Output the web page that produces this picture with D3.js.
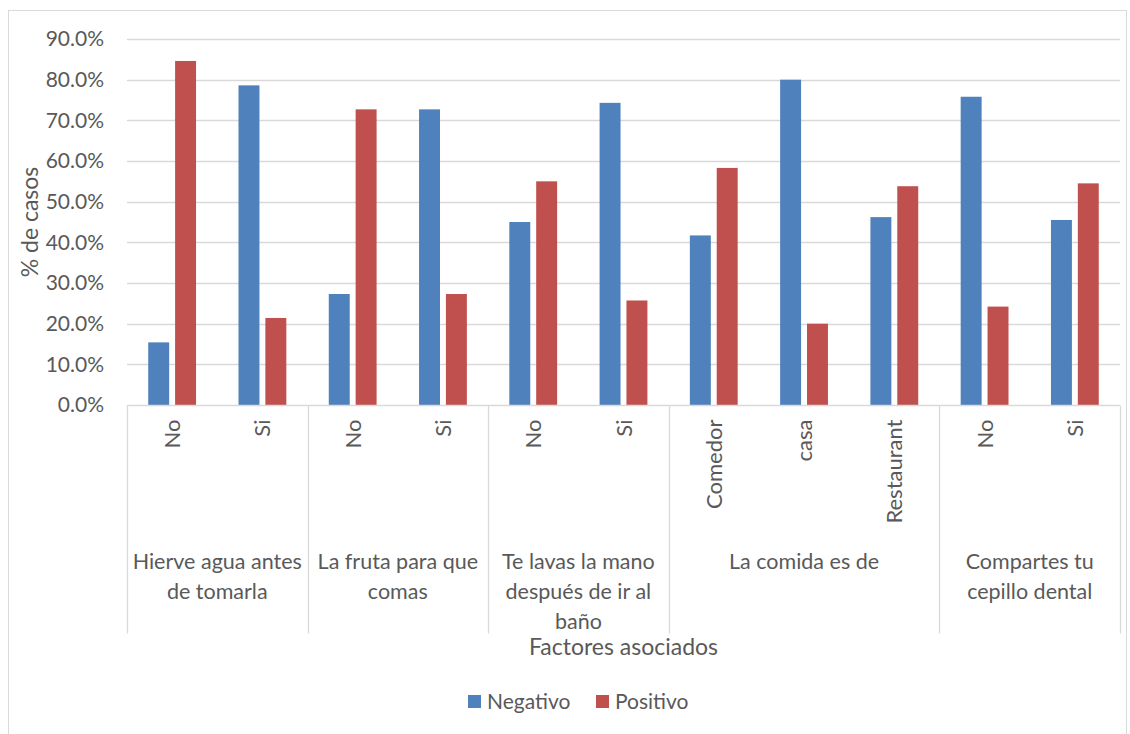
<!DOCTYPE html>
<html>
<head>
<meta charset="utf-8">
<script src="https://cdn.jsdelivr.net/npm/d3@7"></script>
<style>
  body { margin: 0; background: #fff; }
  text { font-family: Lato, "Open Sans", sans-serif; fill: #595959; }
</style>
</head>
<body>
<div id="chart"></div>
<script>
// data
var groups = [
  { name: ["Hierve agua antes", "de tomarla"], cats: ["No", "Si"] },
  { name: ["La fruta para que", "comas"], cats: ["No", "Si"] },
  { name: ["Te lavas la mano", "después de ir al", "baño"], cats: ["No", "Si"] },
  { name: ["La comida es de"], cats: ["Comedor", "casa", "Restaurant"] },
  { name: ["Compartes tu", "cepillo dental"], cats: ["No", "Si"] }
];
var negativo = [15.4, 78.6, 27.3, 72.7, 45.0, 74.3, 41.7, 80.0, 46.2, 75.8, 45.5];
var positivo = [84.6, 21.4, 72.7, 27.3, 55.0, 25.7, 58.3, 20.0, 53.8, 24.2, 54.5];
var series = ["Negativo", "Positivo"];
var colors = ["#4f81bd", "#c0504d"];
var yTicks = [0, 10, 20, 30, 40, 50, 60, 70, 80, 90];

var W = 1130, H = 734;
var m = { left: 127, right: 10, top: 39, bottom: 329 };

var svg = d3.select("#chart").append("svg")
    .attr("width", W).attr("height", H);

// chart border
svg.append("rect")
    .attr("x", 8.5).attr("y", 10.5)
    .attr("width", 1118).attr("height", 730)
    .attr("fill", "none").attr("stroke", "#d9d9d9");

// flat list of categories with group index
var cats = [];
groups.forEach(function(g, gi) {
  g.cats.forEach(function(c) { cats.push({ label: c, group: gi }); });
});
cats.forEach(function(c, i) { c.id = i; c.neg = negativo[i]; c.pos = positivo[i]; });

var xEnd = 1120;
var x = d3.scaleBand()
    .domain(cats.map(function(d) { return d.id; }))
    .range([m.left, xEnd]);

var y = d3.scaleLinear()
    .domain([0, 90])
    .range([H - m.bottom, m.top]);

// gridlines
svg.append("g").selectAll("line")
    .data(yTicks.slice(1))
    .join("line")
    .attr("x1", m.left).attr("x2", xEnd)
    .attr("y1", function(d) { return Math.round(y(d)) + 0.5; })
    .attr("y2", function(d) { return Math.round(y(d)) + 0.5; })
    .attr("stroke", "#d9d9d9").attr("stroke-width", 1.3);

// y axis labels
var yAxis = d3.axisLeft(y)
    .tickValues(yTicks)
    .tickFormat(function(d) { return d.toFixed(1) + "%"; })
    .tickSize(0).tickPadding(0);
var yg = svg.append("g")
    .attr("transform", "translate(" + (m.left - 23) + ",0)")
    .call(yAxis);
yg.select(".domain").remove();
yg.selectAll("text")
    .style("font-size", "21px")
    .attr("fill", "#595959");

// bars
var sub = d3.scaleBand()
    .domain(series)
    .range([0, x.bandwidth()])
    .paddingInner(0.22)
    .paddingOuter(0.79);

var cg = svg.append("g").selectAll("g")
    .data(cats)
    .join("g")
    .attr("transform", function(d) { return "translate(" + x(d.id) + ",0)"; });

cg.selectAll("rect")
    .data(function(d) { return [{ s: 0, v: d.neg }, { s: 1, v: d.pos }]; })
    .join("rect")
    .attr("x", function(d) { return sub(series[d.s]); })
    .attr("width", sub.bandwidth())
    .attr("y", function(d) { return y(d.v); })
    .attr("height", function(d) { return y(0) - y(d.v); })
    .attr("fill", function(d) { return colors[d.s]; });

// x axis baseline and group separators
var base = Math.round(y(0)) + 0.5;
svg.append("line")
    .attr("x1", m.left).attr("x2", xEnd)
    .attr("y1", base).attr("y2", base)
    .attr("stroke", "#d9d9d9").attr("stroke-width", 1.3);

var bounds = [0];
var acc = 0;
groups.forEach(function(g) { acc += g.cats.length; bounds.push(acc); });
function edge(b) { return b < cats.length ? x(b) : xEnd; }
svg.append("g").selectAll("line")
    .data(bounds)
    .join("line")
    .attr("x1", function(d) { return Math.round(edge(d)) + 0.5; })
    .attr("x2", function(d) { return Math.round(edge(d)) + 0.5; })
    .attr("y1", base).attr("y2", base + 228)
    .attr("stroke", "#d9d9d9").attr("stroke-width", 1.3);

// category labels (rotated)
svg.append("g").selectAll("text")
    .data(cats)
    .join("text")
    .attr("transform", function(d) {
      return "translate(" + (x(d.id) + x.bandwidth() / 2 + 8) + "," + (base + 14) + ") rotate(-90)";
    })
    .attr("text-anchor", "end")
    .style("font-size", "22px")
    .text(function(d) { return d.label; });

// group labels
var gl = svg.append("g").selectAll("text")
    .data(groups)
    .join("text")
    .attr("text-anchor", "middle")
    .style("font-size", "21.5px")
    .attr("transform", function(g, gi) {
      return "translate(" + ((edge(bounds[gi]) + edge(bounds[gi + 1])) / 2) + "," + (base + 163) + ")";
    });
gl.selectAll("tspan")
    .data(function(g) { return g.name; })
    .join("tspan")
    .attr("x", 0)
    .attr("dy", function(d, i) { return i === 0 ? 0 : 30; })
    .text(function(d) { return d; });

// axis titles
svg.append("text")
    .attr("x", (m.left + xEnd) / 2)
    .attr("y", 655)
    .attr("text-anchor", "middle")
    .style("font-size", "23px")
    .text("Factores asociados");

svg.append("text")
    .attr("transform", "translate(38," + ((y(0) + y(90)) / 2) + ") rotate(-90)")
    .attr("text-anchor", "middle")
    .style("font-size", "23px")
    .text("% de casos");

// legend
var leg = svg.append("g").selectAll("g")
    .data(series)
    .join("g")
    .attr("transform", function(d, i) { return "translate(" + (468 + i * 128) + ",695)"; });
leg.append("rect")
    .attr("width", 13).attr("height", 13)
    .attr("fill", function(d, i) { return colors[i]; });
leg.append("text")
    .attr("x", 19).attr("y", 14)
    .style("font-size", "21px")
    .text(function(d) { return d; });
</script>
</body>
</html>
